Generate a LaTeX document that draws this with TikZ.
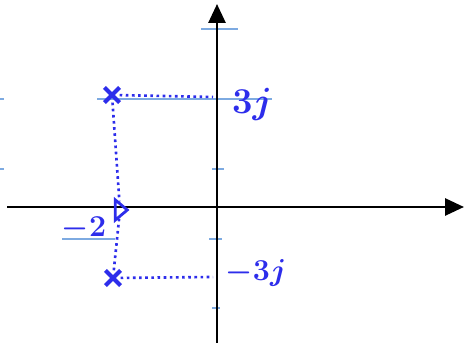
\documentclass[tikz,border=0pt]{standalone}
\usepackage{amsmath}
\usetikzlibrary{arrows.meta,shapes.misc,shapes.geometric}

\definecolor{ink}{RGB}{45,45,235}
\definecolor{rule}{RGB}{125,170,225}

\begin{document}
\begin{tikzpicture}[x=0.02cm, y=0.02cm, >={Triangle[length=0.38cm,width=0.34cm]},
    every node/.style={font=\fontsize{22}{26}\selectfont, text=ink},
    ruled/.style={rule, line width=0.7pt},
    pt/.style={cross out, draw=ink, line width=2.4pt, minimum size=0.22cm, inner sep=0pt},
    proj/.style={ink, dotted, line width=1.5pt}]
                \useasboundingbox (0,0) rectangle (465,347);

                % ruled lines of the page
                \draw[ruled] (201,318) -- (238,318);
                \draw[ruled] (97,248) -- (272,248);
                \draw[ruled] (0,248) -- (4,248);
                \draw[ruled] (0,178) -- (4,178);
                \draw[ruled] (212,178) -- (224,178);
                \draw[ruled] (62,108) -- (115,108);
                \draw[ruled] (209,108) -- (222,108);
                \draw[ruled] (212,39) -- (220,39);

                % axes
                \coordinate (W) at (7,140);
                \coordinate (E) at (464,140);
                \coordinate (S) at (217,4);
                \coordinate (N) at (217,343);
                \draw[->, line width=1.6pt] (W) -- (E);
                \draw[->, line width=1.6pt] (S) -- (N);

                % the points
                \node[pt] (P) at (112,252) {};
                \node[pt] (Q) at (113,69) {};
                \node[isosceles triangle, isosceles triangle apex angle=80, draw=ink,
                      line width=1.6pt, inner sep=0pt, minimum width=0.26cm, minimum height=0.24cm] (R) at (120,137) {};
                \coordinate (Pim) at (213,250);
                \coordinate (Qim) at (213,70);

                \draw[proj] (P) -- (Pim);
                \draw[proj] (Q) -- (Qim);
                \draw[proj] (P) -- (R) -- (Q);

                % labels
                \node (Lp) at (252,243) {$\boldsymbol{3j}$};
                \node[font=\fontsize{18}{20}\selectfont] (Lr) at (84,118) {$\boldsymbol{-2}$};
                \node[font=\fontsize{19}{23}\selectfont] (Lq) at (256,74) {$\boldsymbol{-3j}$};
            \end{tikzpicture}
\end{document}
